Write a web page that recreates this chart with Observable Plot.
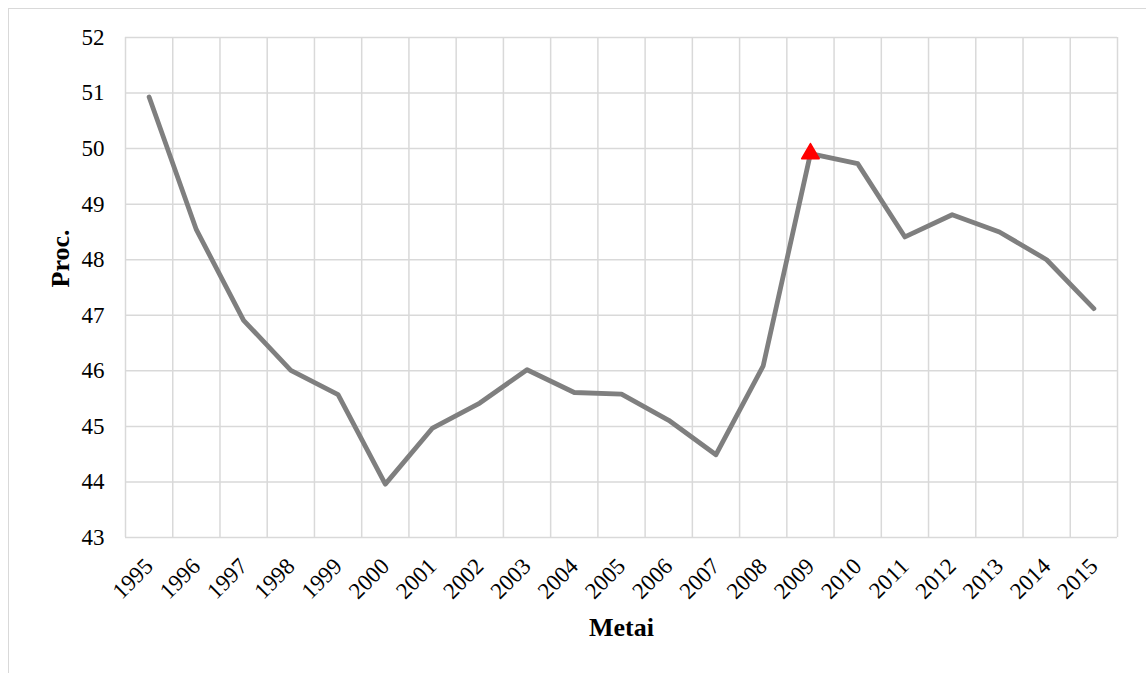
<!DOCTYPE html>
<html>
<head>
<meta charset="utf-8">
<script src="https://cdn.jsdelivr.net/npm/d3@7"></script>
<script src="https://cdn.jsdelivr.net/npm/@observablehq/plot@0.6"></script>
<style>
  html, body { margin: 0; padding: 0; background: #fff; width: 1146px; height: 673px; overflow: hidden; }
  #frame { position: absolute; left: 8px; top: 8px; width: 1300px; height: 800px;
           border-left: 1.5px solid #d9d9d9; border-top: 1.5px solid #d9d9d9; box-sizing: border-box; }
  #chart { position: absolute; left: 0; top: 0; }
  #chart svg, #chart svg text { font-family: "Liberation Serif", "Times New Roman", serif !important; }
</style>
</head>
<body>
<div id="frame"></div>
<div id="chart"></div>
<script>
// Data
const years = [1995, 1996, 1997, 1998, 1999, 2000, 2001, 2002, 2003, 2004, 2005,
               2006, 2007, 2008, 2009, 2010, 2011, 2012, 2013, 2014, 2015];
const values = [50.93, 48.54, 46.91, 46.01, 45.57, 43.96, 44.97, 45.42, 46.02, 45.61, 45.58,
                45.11, 44.49, 46.09, 49.91, 49.73, 48.41, 48.81, 48.50, 48.00, 47.12];
const highlightYear = 2009;
const yTicks = [43, 44, 45, 46, 47, 48, 49, 50, 51, 52];
const xTitle = "Metai";
const yTitle = "Proc.";

const data = years.map((year, i) => ({year, value: values[i]}));
const highlight = data.filter(d => d.year === highlightYear);
const bounds = [...years.map(y => y - 0.5), years[years.length - 1] + 0.5];

const grid = "#d9d9d9";
const chart = Plot.plot({
  width: 1146,
  height: 673,
  marginLeft: 125,
  marginRight: 29,
  marginTop: 37,
  marginBottom: 136,
  x: {domain: [years[0] - 0.5, years[years.length - 1] + 0.5]},
  y: {domain: [yTicks[0], yTicks[yTicks.length - 1]]},
  style: {fontFamily: "Liberation Serif, serif", fontSize: "23px", background: "transparent", color: "#000"},
  marks: [
    Plot.ruleX(bounds, {stroke: grid, strokeWidth: 1.5, strokeOpacity: 1}),
    Plot.ruleY(yTicks, {stroke: grid, strokeWidth: 1.5, strokeOpacity: 1}),
    Plot.line(data, {x: "year", y: "value", stroke: "#7f7f7f", strokeWidth: 4.8,
                     strokeLinejoin: "round", strokeLinecap: "round"}),
    Plot.dot(highlight, {x: "year", y: "value", symbol: "triangle", r: 6.5,
                         fill: "#ff0000", stroke: "#ff0000", strokeWidth: 1.5, strokeLinejoin: "round"}),
    Plot.axisY({ticks: yTicks, tickSize: 0, tickPadding: 21, label: null, fontSize: 23}),
    Plot.axisX({ticks: years, tickFormat: d => String(d), tickRotate: -45, tickSize: 0,
                tickPadding: 25, label: null, fontSize: 23}),
    Plot.text([yTitle], {text: d => d, frameAnchor: "left", dx: -65, rotate: -90,
                         fontWeight: "bold", fontSize: 26}),
    Plot.text([xTitle], {text: d => d, frameAnchor: "bottom", dy: 98,
                         fontWeight: "bold", fontSize: 26})
  ]
});
document.getElementById("chart").appendChild(chart);
</script>
</body>
</html>
